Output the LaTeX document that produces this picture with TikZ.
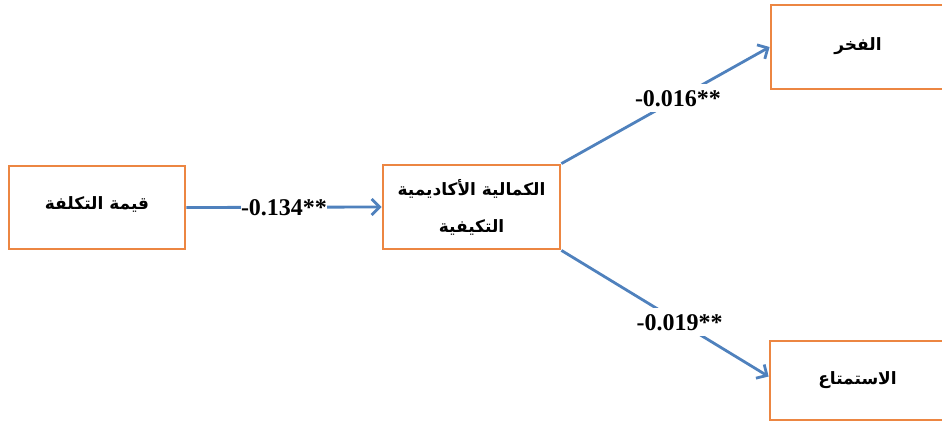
\documentclass[tikz,border=0pt]{standalone}
\usepackage{fontspec}
\setmainfont{Liberation Serif}
\newfontfamily\arabicfont[Script=Arabic]{DejaVu Sans}
\TeXXeTstate=1
\usetikzlibrary{arrows.meta}
\definecolor{boxorange}{RGB}{236,134,66}
\definecolor{linkblue}{RGB}{79,129,189}

\begin{document}
\begin{tikzpicture}[x=1pt,y=-1pt,
  varbox/.style={draw=boxorange, line width=2.8pt, inner sep=0pt, align=center,
    font=\arabicfont\bfseries\fontsize{17}{37}\selectfont},
  link/.style={draw=linkblue, line width=2.8pt,
    -{Straight Barb[length=8pt,width=16pt,line width=2.8pt]}},
  coef/.style={fill=white, inner xsep=0pt, inner ysep=6pt,
    font=\bfseries\fontsize{24}{26}\selectfont}]
\useasboundingbox (0,0) rectangle (942,426);

% variable boxes
\node[varbox, minimum width=176pt, minimum height=83pt] (cost) at (97,207.5)
  {\raisebox{9pt}{\beginR قيمة التكلفة\endR}};
\node[varbox, minimum width=177pt, minimum height=84pt] (perf) at (471.5,207)
  {\beginR الكمالية الأكاديمية\endR\\\beginR التكيفية\endR};
\node[varbox, minimum width=174pt, minimum height=84pt] (pride) at (858,47)
  {\raisebox{5pt}{\beginR الفخر\endR}};
\node[varbox, minimum width=175pt, minimum height=79pt] (enjoy) at (857.5,380.5)
  {\beginR الاستمتاع\endR};

% paths with coefficients
\draw[link] (cost.east) -- node[coef, pos=0.5] {-0.134**} (perf.west);
\draw[link] (perf.north east) -- node[coef, pos=0.56] {-0.016**} (pride.west);
\draw[link] (perf.south east) -- node[coef, pos=0.57] {-0.019**} ([yshift=4pt]enjoy.west);
\end{tikzpicture}
\end{document}
